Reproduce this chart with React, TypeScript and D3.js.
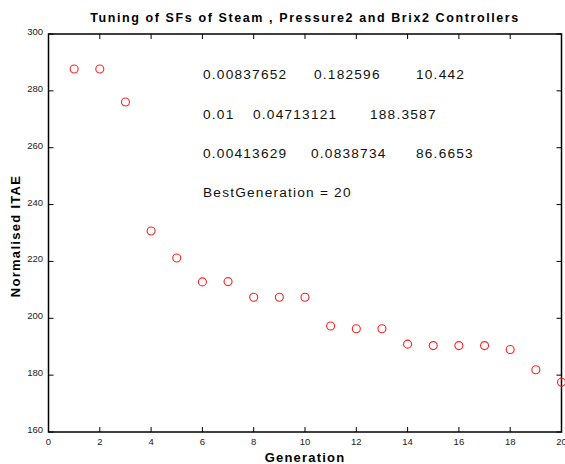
import React from "react";
import * as d3 from "d3";

const generations = [1, 2, 3, 4, 5, 6, 7, 8, 9, 10, 11, 12, 13, 14, 15, 16, 17, 18, 19, 20];
const itae = [287.7, 287.7, 276.1, 230.7, 221.2, 212.8, 212.9, 207.4, 207.4, 207.4, 197.3, 196.3, 196.3, 190.9, 190.4, 190.4, 190.4, 189.0, 181.9, 177.5];
const xTicks = [0, 2, 4, 6, 8, 10, 12, 14, 16, 18, 20];
const yTicks = [160, 180, 200, 220, 240, 260, 280, 300];
const annotations = [
  ["0.00837652", "0.182596", "10.442"],
  ["0.01", "0.04713121", "188.3587"],
  ["0.00413629", "0.0838734", "86.6653"],
  ["BestGeneration = 20"],
];
const annotationX = [
  [203, 314, 416],
  [203, 253, 370],
  [203, 311, 416],
  [203],
];
const annotationY = [285.9, 271.8, 258.0, 244.3];

const W = 565, H = 464;
const L = 48.5, R = 561.5, T = 34, B = 432;

export default function App() {
  const x = d3.scaleLinear().domain([0, 20]).range([L, R]);
  const y = d3.scaleLinear().domain([160, 300]).range([B, T]);
  const font = "'Liberation Sans', Arial, sans-serif";
  return (
    <svg width={W} height={H} style={{ position: "absolute", left: 0, top: 0, background: "#fff" }} fontFamily={font}>
      <rect x={0} y={0} width={W} height={H} fill="#fff" />
      <text x={305} y={22} textAnchor="middle" fontSize={12.5} fontWeight="bold" letterSpacing={1.6}>
        Tuning of SFs of Steam , Pressure2 and Brix2 Controllers
      </text>
      <rect x={L} y={T} width={R - L} height={B - T} fill="none" stroke="#000" strokeWidth={1.5} />
      {xTicks.map((t) => (
        <g key={"x" + t}>
          <line x1={x(t)} x2={x(t)} y1={B} y2={B - 5} stroke="#000" strokeWidth={1} />
          <line x1={x(t)} x2={x(t)} y1={T} y2={T + 5} stroke="#000" strokeWidth={1} />
          <text x={x(t)} y={445} textAnchor="middle" fontSize={9.5} fill="#222">{t}</text>
        </g>
      ))}
      {yTicks.map((t) => (
        <g key={"y" + t}>
          <line x1={L} x2={L + 5} y1={y(t)} y2={y(t)} stroke="#000" strokeWidth={1} />
          <line x1={R} x2={R - 5} y1={y(t)} y2={y(t)} stroke="#000" strokeWidth={1} />
          <text x={43} y={y(t) + 1} textAnchor="end" fontSize={9.5} fill="#222">{t}</text>
        </g>
      ))}
      <text x={305} y={462} textAnchor="middle" fontSize={13} fontWeight="bold" letterSpacing={1.2}>Generation</text>
      <text transform={`translate(20,${236}) rotate(-90)`} textAnchor="middle" fontSize={13} fontWeight="bold" letterSpacing={1.3}>Normalised ITAE</text>
      {generations.map((g, i) => (
        <circle key={g} cx={x(g)} cy={y(itae[i])} r={4} fill="none" stroke="#ff2020" strokeWidth={1.1} />
      ))}
      {annotations.map((row, i) =>
        row.map((s, j) => (
          <text key={i + "-" + j} x={annotationX[i][j]} y={y(annotationY[i]) + 5} fontSize={13.7} letterSpacing={1.2} fill="#111">{s}</text>
        ))
      )}
    </svg>
  );
}
